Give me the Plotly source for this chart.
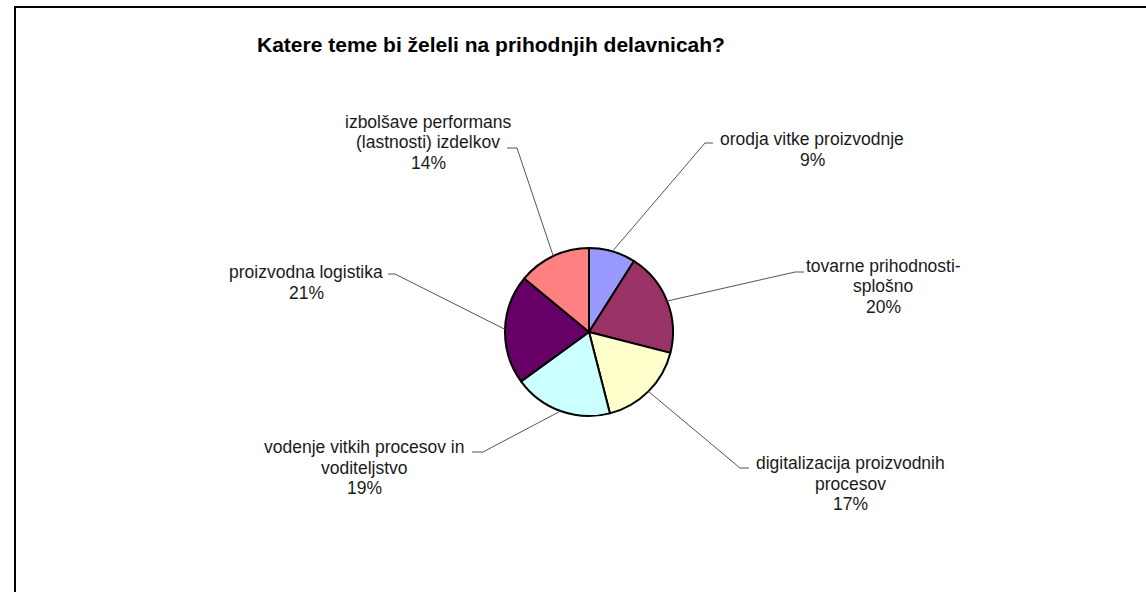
import math
import plotly.graph_objects as go

W, H = 1146, 592

# ---- data ----
categories = [
    "orodja vitke proizvodnje",
    "tovarne prihodnosti-\nsplošno",
    "digitalizacija proizvodnih\nprocesov",
    "vodenje vitkih procesov in\nvoditeljstvo",
    "proizvodna logistika",
    "izbolšave performans\n(lastnosti) izdelkov",
]
percent_values = [9, 20, 17, 19, 21, 14]
slice_colors = ["#9999FF", "#993366", "#FFFFCC", "#CCFFFF", "#660066", "#FF8080"]
title_text = "Katere teme bi želeli na prihodnjih delavnicah?"

# ---- layout (pixels) ----
cx, cy, R = 589, 332, 84
label_x = [812, 883, 850, 364, 306, 428]
label_top = [139, 266, 463, 447, 272, 122]
line_gap = 20.5
elbows = [(705, 143), (795, 272), (740, 468), (483, 452), (395, 274), (517, 148)]
line_ends = [(713, 143), (804, 272), (749, 468), (472, 452), (388, 274), (507, 148)]
FONT = "Arial, Liberation Sans, sans-serif"


def px(x):
    return x / W


def py(y):
    return 1 - y / H


fig = go.Figure()
fig.add_trace(go.Pie(
    labels=[c.replace("\n", " ") for c in categories],
    values=percent_values,
    sort=False,
    direction="clockwise",
    rotation=0,
    textinfo="none",
    hoverinfo="label+percent",
    marker=dict(colors=slice_colors, line=dict(color="#000000", width=2)),
    domain=dict(x=[px(cx - R), px(cx + R)], y=[py(cy + R), py(cy - R)]),
    showlegend=False,
))

shapes = []
annotations = []
total = sum(percent_values)
cum = 0
for i, v in enumerate(percent_values):
    mid = (cum + v / 2) / total * 2 * math.pi
    cum += v
    sx = cx + R * math.sin(mid)
    sy = cy - R * math.cos(mid)
    ex, ey = elbows[i]
    tx, ty = line_ends[i]
    shapes.append(dict(
        type="path", xref="paper", yref="paper",
        path=f"M {px(sx)} {py(sy)} L {px(ex)} {py(ey)} L {px(tx)} {py(ty)}",
        line=dict(color="#555555", width=1),
    ))
    lines = categories[i].split("\n") + [f"{v}%"]
    for k, txt in enumerate(lines):
        annotations.append(dict(
            x=px(label_x[i]), y=py(label_top[i] + k * line_gap),
            xref="paper", yref="paper",
            text=txt, showarrow=False,
            xanchor="center", yanchor="middle",
            font=dict(family=FONT, size=17.5, color="#1a1a1a"),
        ))

# title
annotations.append(dict(
    x=px(491), y=py(44), xref="paper", yref="paper",
    text=f"<b>{title_text}</b>", showarrow=False,
    xanchor="center", yanchor="middle",
    font=dict(family=FONT, size=21, color="#000000"),
))

# outer frame
shapes.append(dict(
    type="rect", xref="paper", yref="paper",
    x0=px(15), x1=px(W + 20), y0=py(H + 20), y1=py(7),
    line=dict(color="#000000", width=2), fillcolor="rgba(0,0,0,0)",
))

fig.update_layout(
    width=W, height=H,
    margin=dict(l=0, r=0, t=0, b=0),
    paper_bgcolor="#FFFFFF", plot_bgcolor="#FFFFFF",
    shapes=shapes, annotations=annotations,
)

fig.write_html(
    "out.html",
    config={"displayModeBar": False},
    post_script="document.body.style.margin='0';document.body.style.overflow='hidden';",
)
